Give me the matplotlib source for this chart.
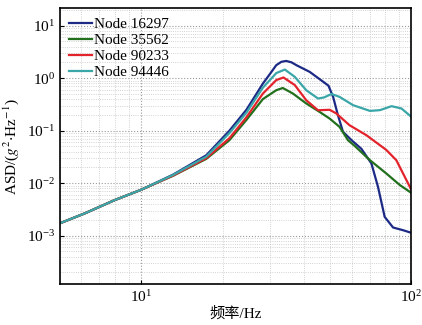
import matplotlib
matplotlib.use('Agg')
import matplotlib.pyplot as plt
from matplotlib.ticker import LogLocator, NullFormatter

plt.rcParams['font.family'] = ['Liberation Serif', 'Noto Sans CJK SC']
plt.rcParams['mathtext.fontset'] = 'stix'

# values (frequency in Hz, ASD in g^2/Hz)
f_16297 = [5, 6.17, 7.96, 10, 13.1, 17.4, 21.2, 24.5, 28.2, 30, 31.6, 33, 34.4, 36, 37.5, 42.0,
           45.7, 49.3, 51.3, 53.4, 55.8, 60.0, 65.3, 71.1, 75.2, 79.6, 85.5, 93.1, 100]
v_16297 = [1.72e-3, 2.65e-3, 4.74e-3, 7.5e-3, 0.0145, 0.034, 0.10, 0.25, 0.79, 1.22, 1.77, 2.05,
           2.13, 2.0, 1.77, 1.32, 0.96, 0.72, 0.44, 0.2, 0.095, 0.066, 0.045, 0.0237, 0.0085,
           0.00228, 0.00143, 0.00127, 0.00113]

f_35562 = [5, 6.17, 7.96, 10, 13.1, 17.4, 21.2, 24.5, 28.2, 31.6, 33.4, 36.4, 40.8, 45.7, 49.8,
           54.2, 58.2, 61.7, 70.2, 80.7, 90.6, 100]
v_35562 = [1.72e-3, 2.65e-3, 4.74e-3, 7.5e-3, 0.0138, 0.029, 0.066, 0.16, 0.40, 0.59, 0.65, 0.51,
           0.33, 0.228, 0.17, 0.118, 0.066, 0.051, 0.0274, 0.0153, 0.0092, 0.0065]

f_90233 = [5, 6.17, 7.96, 10, 13.1, 17.4, 21.2, 24.5, 28.2, 31.6, 33.6, 37.0, 40.8, 45.1, 49.8,
           52.7, 59.0, 68.1, 80.7, 87.9, 93.1, 100]
v_90233 = [1.72e-3, 2.65e-3, 4.74e-3, 7.5e-3, 0.0139, 0.030, 0.072, 0.18, 0.51, 0.92, 1.03, 0.74,
           0.38, 0.245, 0.25, 0.213, 0.127, 0.082, 0.043, 0.0274, 0.0153, 0.0074]

f_94446 = [5, 6.17, 7.96, 10, 13.1, 17.4, 21.2, 24.5, 28.2, 31.6, 34.0, 37.0, 40.8, 45.1, 47.5,
           50.6, 54.2, 60.8, 70.2, 76.4, 84.4, 91.8, 100]
v_94446 = [1.72e-3, 2.65e-3, 4.74e-3, 7.5e-3, 0.0143, 0.032, 0.09, 0.22, 0.66, 1.25, 1.46, 1.06,
           0.59, 0.41, 0.43, 0.50, 0.44, 0.306, 0.238, 0.246, 0.293, 0.265, 0.183]

series = [
  ('Node 16297', f_16297, v_16297, '#1c2a86'),
  ('Node 35562', f_35562, v_35562, '#22701e'),
  ('Node 90233', f_90233, v_90233, '#e3232c'),
  ('Node 94446', f_94446, v_94446, '#3aa6a8'),
]

fig = plt.figure(figsize=(4.22, 3.25), dpi=100)
ax = fig.add_axes([0.142, 0.125, 0.833, 0.849])

for label, f, v, c in series:
  ax.plot(f, v, color=c, lw=1.6, label=label)

ax.set_xscale('log')
ax.set_yscale('log')
ax.set_xlim(5, 100)
ax.set_ylim(1.18e-4, 21.3)

ax.yaxis.set_major_locator(LogLocator(base=10, numticks=10))
ax.yaxis.set_minor_locator(LogLocator(base=10, subs=range(2, 10), numticks=20))
ax.yaxis.set_minor_formatter(NullFormatter())
ax.xaxis.set_minor_formatter(NullFormatter())

ax.grid(True, which='major', color='#9a9a9a', ls=':', lw=0.8)
ax.grid(True, which='minor', color='#c4c4c4', ls=':', lw=0.6)
ax.set_axisbelow(True)

ax.tick_params(which='both', direction='in', labelsize=11)
ax.tick_params(which='minor', length=0)
ax.tick_params(which='major', length=3)
for s in ax.spines.values():
  s.set_linewidth(1.2)

ax.set_xlabel('频率/Hz', fontsize=11, labelpad=1)
ax.set_ylabel(r'ASD/($g^2$$\cdot$Hz$^{-1}$)', fontsize=11)

ax.legend(loc='upper left', frameon=False, fontsize=11, handlelength=1.5,
          handletextpad=0.15, labelspacing=0.15, borderaxespad=0.2)

fig.savefig('out.png', dpi=100)
